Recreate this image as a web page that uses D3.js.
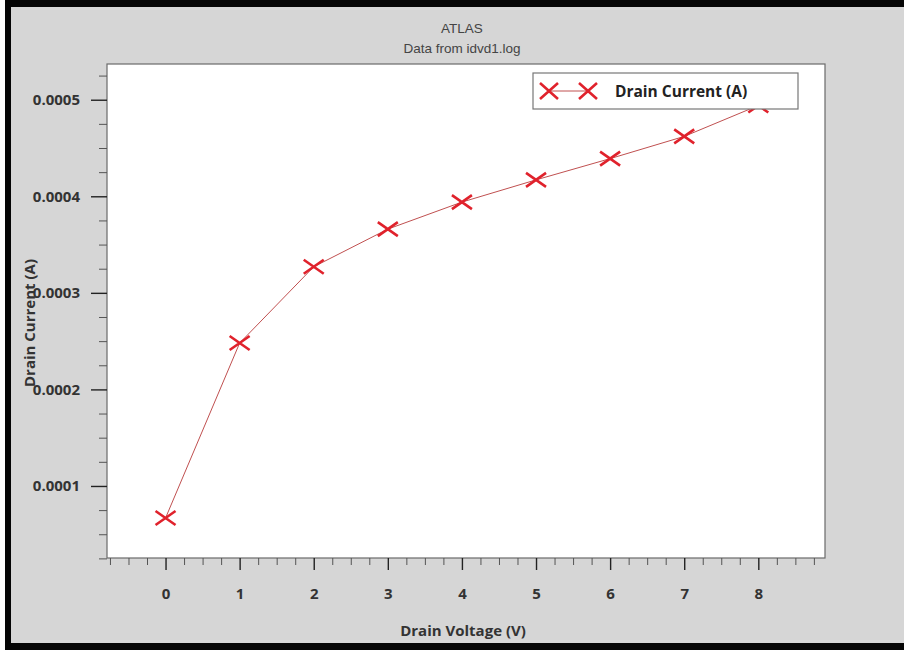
<!DOCTYPE html>
<html>
<head>
<meta charset="utf-8">
<script src="https://cdn.jsdelivr.net/npm/d3@7"></script>
<style>
  html, body { margin: 0; padding: 0; background: #ffffff; }
  svg { display: block; }
</style>
</head>
<body>
<div id="chart"></div>
<script>
const voltage = [0, 1, 2, 3, 4, 5, 6, 7, 8]
const current = [0.0000668, 0.000248, 0.000327, 0.000366, 0.000394, 0.000417, 0.000439, 0.000462, 0.000494]
const xTicks = [0, 1, 2, 3, 4, 5, 6, 7, 8]
const yTicks = [0.0001, 0.0002, 0.0003, 0.0004, 0.0005]
const titles = ['ATLAS', 'Data from idvd1.log']
const seriesName = 'Drain Current (A)'
const xTitle = 'Drain Voltage (V)'
const yTitle = 'Drain Current (A)'

const width = 904
const height = 650
const plot = { left: 107, top: 64, right: 825, bottom: 558 }

const svg = d3.select('#chart')
  .append('svg')
  .attr('width', width)
  .attr('height', height)

// frame
svg.append('rect')
  .attr('x', 0).attr('y', 0)
  .attr('width', width).attr('height', height)
  .style('fill', '#ffffff')
svg.append('rect')
  .attr('x', 5).attr('y', 0)
  .attr('width', width - 5).attr('height', height)
  .style('fill', '#050505')
svg.append('rect')
  .attr('x', 11).attr('y', 7)
  .attr('width', width - 11).attr('height', 636)
  .style('fill', '#d6d6d6')

const xScale = d3.scaleLinear().domain([-0.79, 8.9]).range([plot.left, plot.right])
const yScale = d3.scaleLinear().domain([0.0000254, 0.000537]).range([plot.bottom, plot.top])

// titles
svg.selectAll('text.title').data(titles).enter()
  .append('text')
  .classed('title', true)
  .attr('x', 462)
  .attr('y', (d, i) => 33 + i * 20)
  .attr('text-anchor', 'middle')
  .style('font-family', '"Liberation Sans Narrow", "Liberation Sans", Arial, sans-serif')
  .style('font-size', '13.5px')
  .style('fill', '#444')
  .text(d => d)

// plot area
svg.append('rect')
  .attr('x', plot.left)
  .attr('y', plot.top)
  .attr('width', plot.right - plot.left)
  .attr('height', plot.bottom - plot.top)
  .style('fill', '#ffffff')
  .style('stroke', '#6a6a6a')
  .style('stroke-width', 1.2)

const tickFont = '"Open Sans", "DejaVu Sans", sans-serif'

// y axis
const yMinor = d3.range(0.000025, 0.00053, 0.000025).filter(v => Math.abs(v * 10000 - Math.round(v * 10000)) > 1e-6)
const yMinorAxis = d3.axisLeft(yScale).tickValues(yMinor).tickSize(8).tickSizeOuter(0).tickFormat('')
const yAxis = d3.axisLeft(yScale).tickValues(yTicks).tickSize(16).tickSizeOuter(0).tickPadding(11)
  .tickFormat(d3.format('.4f'))

const yMinorg = svg.append('g').attr('transform', `translate(${plot.left}, 0)`).call(yMinorAxis)
const yAxisg = svg.append('g').attr('transform', `translate(${plot.left}, 0)`).call(yAxis)

// x axis
const xMinor = d3.range(-0.75, 8.8, 0.25).filter(v => v % 1 !== 0)
const xMinorAxis = d3.axisBottom(xScale).tickValues(xMinor).tickSize(7).tickSizeOuter(0).tickFormat('')
const xAxis = d3.axisBottom(xScale).tickValues(xTicks).tickSize(12).tickSizeOuter(0).tickPadding(18)
  .tickFormat(d3.format('d'))

const xMinorg = svg.append('g').attr('transform', `translate(0, ${plot.bottom})`).call(xMinorAxis)
const xAxisg = svg.append('g').attr('transform', `translate(0, ${plot.bottom})`).call(xAxis)

;[yMinorg, yAxisg, xMinorg, xAxisg].forEach(g => {
  g.select('path.domain').remove()
  g.selectAll('line').style('stroke', '#222').style('stroke-width', 1.4)
  g.selectAll('text')
    .style('font-family', tickFont)
    .style('font-size', '15px')
    .style('font-weight', 'bold')
    .style('fill', '#333')
})
yMinorg.selectAll('line').style('stroke', '#555').style('stroke-width', 1)
xMinorg.selectAll('line').style('stroke', '#555').style('stroke-width', 1)

// axis titles
svg.append('text')
  .attr('x', 463)
  .attr('y', 636)
  .attr('text-anchor', 'middle')
  .style('font-family', tickFont)
  .style('font-size', '15px')
  .style('font-weight', 'bold')
  .style('fill', '#333')
  .text(xTitle)

svg.append('text')
  .attr('transform', `translate(35, 323) rotate(-90)`)
  .attr('text-anchor', 'middle')
  .style('font-family', tickFont)
  .style('font-size', '15px')
  .style('font-weight', 'bold')
  .style('fill', '#333')
  .text(yTitle)

// series
const data = voltage.map((v, i) => ({ x: v, y: current[i] }))
const line = d3.line().x(d => xScale(d.x)).y(d => yScale(d.y))

svg.append('path')
  .datum(data)
  .attr('d', line)
  .style('fill', 'none')
  .style('stroke', '#c05050')
  .style('stroke-width', 1)

function cross(sel, hw, hh) {
  sel.append('path')
    .attr('d', `M${-hw},${-hh}L${hw},${hh}M${-hw},${hh}L${hw},${-hh}`)
    .style('fill', 'none')
    .style('stroke', '#e0222c')
    .style('stroke-width', 2.6)
}

const markers = svg.selectAll('g.marker').data(data).enter()
  .append('g')
  .classed('marker', true)
  .attr('transform', d => `translate(${xScale(d.x)}, ${yScale(d.y)})`)
cross(markers, 10, 7)

// legend
const legend = svg.append('g').attr('transform', 'translate(533, 73)')
legend.append('rect')
  .attr('width', 265)
  .attr('height', 36)
  .style('fill', '#ffffff')
  .style('stroke', '#777')
  .style('stroke-width', 1.2)
legend.append('line')
  .attr('x1', 16).attr('x2', 55)
  .attr('y1', 18).attr('y2', 18)
  .style('stroke', '#c05050')
  .style('stroke-width', 1)
cross(legend.append('g').attr('transform', 'translate(16, 18)'), 9, 8)
cross(legend.append('g').attr('transform', 'translate(55, 18)'), 9, 8)
legend.append('text')
  .attr('x', 82)
  .attr('y', 24)
  .style('font-family', tickFont)
  .style('font-size', '15.5px')
  .style('font-weight', 'bold')
  .style('fill', '#222')
  .text(seriesName)
</script>
</body>
</html>
